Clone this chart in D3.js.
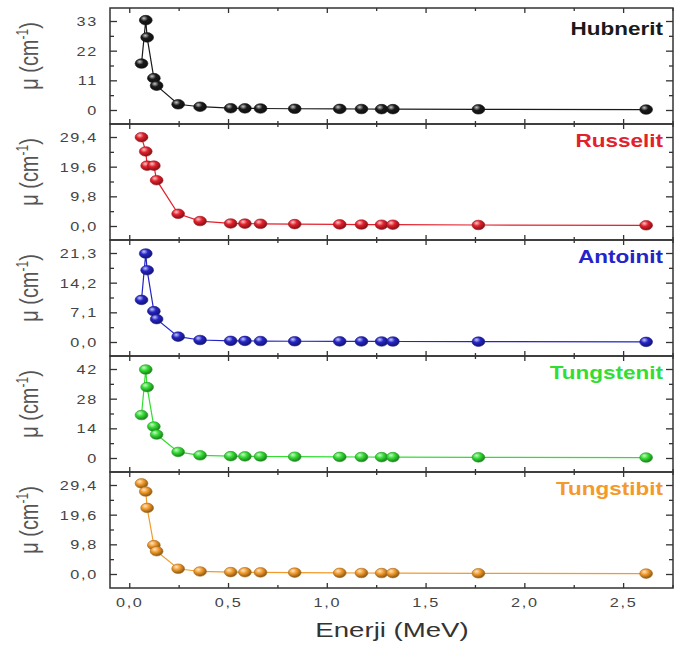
<!DOCTYPE html>
<html>
<head>
<meta charset="utf-8">
<script src="https://cdn.jsdelivr.net/npm/d3@7"></script>
<style>
  body { margin: 0; background: #fff; }
  text { font-family: "Liberation Sans", Arial, sans-serif; }
</style>
</head>
<body>
<svg width="675" height="646"></svg>
<script>
// photon energies (MeV)
const energy = [0.0595, 0.081, 0.088, 0.122, 0.136, 0.245, 0.356, 0.511, 0.583,
  0.662, 0.835, 1.063, 1.173, 1.275, 1.332, 1.765, 2.614];

// linear attenuation coefficients (cm^-1)
const hubnerit = [17.4, 33.5, 27.1, 12.0, 9.2, 2.3, 1.4, 0.85, 0.8, 0.75, 0.65,
  0.6, 0.55, 0.5, 0.5, 0.45, 0.35];
const russelit = [29.5, 24.8, 20.1, 20.1, 15.3, 4.2, 1.8, 1.0, 0.95, 0.9, 0.8,
  0.7, 0.65, 0.6, 0.6, 0.5, 0.4];
const antoinit = [10.2, 21.3, 17.3, 7.5, 5.6, 1.4, 0.6, 0.4, 0.38, 0.35, 0.3,
  0.28, 0.26, 0.25, 0.24, 0.2, 0.15];
const tungstenit = [20.5, 42, 33.7, 15.1, 11.3, 3.1, 1.5, 1.1, 1.0, 0.95, 0.85,
  0.75, 0.7, 0.65, 0.65, 0.55, 0.45];
const tungstibit = [30.1, 27.4, 22, 9.7, 7.7, 1.9, 1.0, 0.8, 0.75, 0.7, 0.62,
  0.55, 0.5, 0.48, 0.47, 0.4, 0.3];

const minerals = ["Hubnerit", "Russelit", "Antoinit", "Tungstenit", "Tungstibit"];
const series = [hubnerit, russelit, antoinit, tungstenit, tungstibit];
const colors = ["#1a1a1a", "#e3202b", "#2424c8", "#33dd33", "#f39a2a"];

const yTicks = [
  [0, 11, 22, 33],
  [0, 9.8, 19.6, 29.4],
  [0, 7.1, 14.2, 21.3],
  [0, 14, 28, 42],
  [0, 9.8, 19.6, 29.4],
];
const yTickLabels = [
  ["0", "11", "22", "33"],
  ["0,0", "9,8", "19,6", "29,4"],
  ["0,0", "7,1", "14,2", "21,3"],
  ["0", "14", "28", "42"],
  ["0,0", "9,8", "19,6", "29,4"],
];
const xTicks = [0, 0.5, 1.0, 1.5, 2.0, 2.5];
const xTickLabels = ["0,0", "0,5", "1,0", "1,5", "2,0", "2,5"];
const xMinor = [0.25, 0.75, 1.25, 1.75, 2.25, 2.75];

const svg = d3.select("svg");
const left = 110, right = 673, top0 = 8, panelH = 116;
const STRETCH = 1.3; // the reference is stretched horizontally

const x = d3.scaleLinear().domain([-0.1, 2.75]).range([left, right]);

const defs = svg.append("defs");
colors.forEach((c, i) => {
  const g = defs.append("radialGradient")
    .attr("id", "ball" + i)
    .attr("cx", "40%").attr("cy", "35%").attr("r", "65%")
    .attr("fx", "35%").attr("fy", "30%");
  g.append("stop").attr("offset", "0%").attr("stop-color", d3.interpolateRgb(c, "#fff")(0.75));
  g.append("stop").attr("offset", "45%").attr("stop-color", c);
  g.append("stop").attr("offset", "100%").attr("stop-color", d3.interpolateRgb(c, "#000")(0.45));
});

series.forEach((vals, i) => {
  const top = top0 + i * panelH;
  const M = yTicks[i][3];
  const y = d3.scaleLinear().domain([0, M]).range([top + 102.5, top + 13.5]);
  const g = svg.append("g");
  const color = colors[i];

  // frame
  g.append("rect")
    .attr("x", left).attr("y", top)
    .attr("width", right - left).attr("height", panelH)
    .attr("fill", "none").attr("stroke", "#333").attr("stroke-width", 1.5);

  // x ticks, top and bottom, inward
  const tx = g.append("g").attr("stroke", "#333").attr("stroke-width", 1.3);
  xTicks.forEach(v => {
    tx.append("line").attr("x1", x(v)).attr("x2", x(v)).attr("y1", top).attr("y2", top + 5);
    tx.append("line").attr("x1", x(v)).attr("x2", x(v)).attr("y1", top + panelH).attr("y2", top + panelH - 5);
  });
  xMinor.forEach(v => {
    tx.append("line").attr("x1", x(v)).attr("x2", x(v)).attr("y1", top).attr("y2", top + 3);
    tx.append("line").attr("x1", x(v)).attr("x2", x(v)).attr("y1", top + panelH).attr("y2", top + panelH - 3);
  });

  // y ticks, left and right, inward
  const yMinor = [M / 6, M / 2, 5 * M / 6];
  yTicks[i].forEach((v, k) => {
    tx.append("line").attr("x1", left).attr("x2", left + 7).attr("y1", y(v)).attr("y2", y(v));
    tx.append("line").attr("x1", right).attr("x2", right - 7).attr("y1", y(v)).attr("y2", y(v));
    g.append("text")
      .attr("transform", `translate(${left - 12},${y(v) + 4.5}) scale(${STRETCH},1)`)
      .attr("text-anchor", "end")
      .attr("font-size", 12.5)
      .attr("letter-spacing", 1.3)
      .attr("fill", "#444")
      .text(yTickLabels[i][k]);
  });
  yMinor.forEach(v => {
    tx.append("line").attr("x1", left).attr("x2", left + 4).attr("y1", y(v)).attr("y2", y(v));
    tx.append("line").attr("x1", right).attr("x2", right - 4).attr("y1", y(v)).attr("y2", y(v));
  });

  // line + markers
  const pts = energy.map((e, k) => [e, vals[k]]);
  g.append("path")
    .datum(pts)
    .attr("fill", "none")
    .attr("stroke", color)
    .attr("stroke-width", 1.2)
    .attr("d", d3.line().x(d => x(d[0])).y(d => y(d[1])));

  g.selectAll("ellipse")
    .data(pts)
    .join("ellipse")
    .attr("cx", d => x(d[0]))
    .attr("cy", d => y(d[1]))
    .attr("rx", 6.4)
    .attr("ry", 4.8)
    .attr("fill", `url(#ball${i})`)
    .attr("stroke", d3.interpolateRgb(color, "#000")(0.3))
    .attr("stroke-width", 0.6);

  // mineral name
  g.append("text")
    .attr("transform", `translate(663,${top + (i === 0 ? 27 : 23)}) scale(1.25,1)`)
    .attr("text-anchor", "end")
    .attr("font-size", 18)
    .attr("font-weight", "bold")
    .attr("fill", color)
    .text(minerals[i]);

  // y title
  const yt = g.append("text")
    .attr("transform", `translate(38,${top + panelH / 2 - 10}) scale(${STRETCH},1) rotate(-90)`)
    .attr("text-anchor", "middle")
    .attr("font-size", 20)
    .attr("fill", "#555");
  yt.append("tspan").text("μ (cm");
  yt.append("tspan").attr("font-size", 12).attr("dy", -8).text("-1");
  yt.append("tspan").attr("dy", 8).text(")");
});

// x tick labels under bottom panel
const bottom = top0 + 5 * panelH;
xTicks.forEach((v, k) => {
  svg.append("text")
    .attr("transform", `translate(${x(v)},${bottom + 19}) scale(${STRETCH},1)`)
    .attr("text-anchor", "middle")
    .attr("font-size", 12.5)
    .attr("letter-spacing", 1.3)
    .attr("fill", "#444")
    .text(xTickLabels[k]);
});

svg.append("text")
  .attr("transform", `translate(392,${bottom + 49}) scale(1.38,1)`)
  .attr("text-anchor", "middle")
  .attr("font-size", 20)
  .attr("fill", "#333")
  .text("Enerji (MeV)");
</script>
</body>
</html>
